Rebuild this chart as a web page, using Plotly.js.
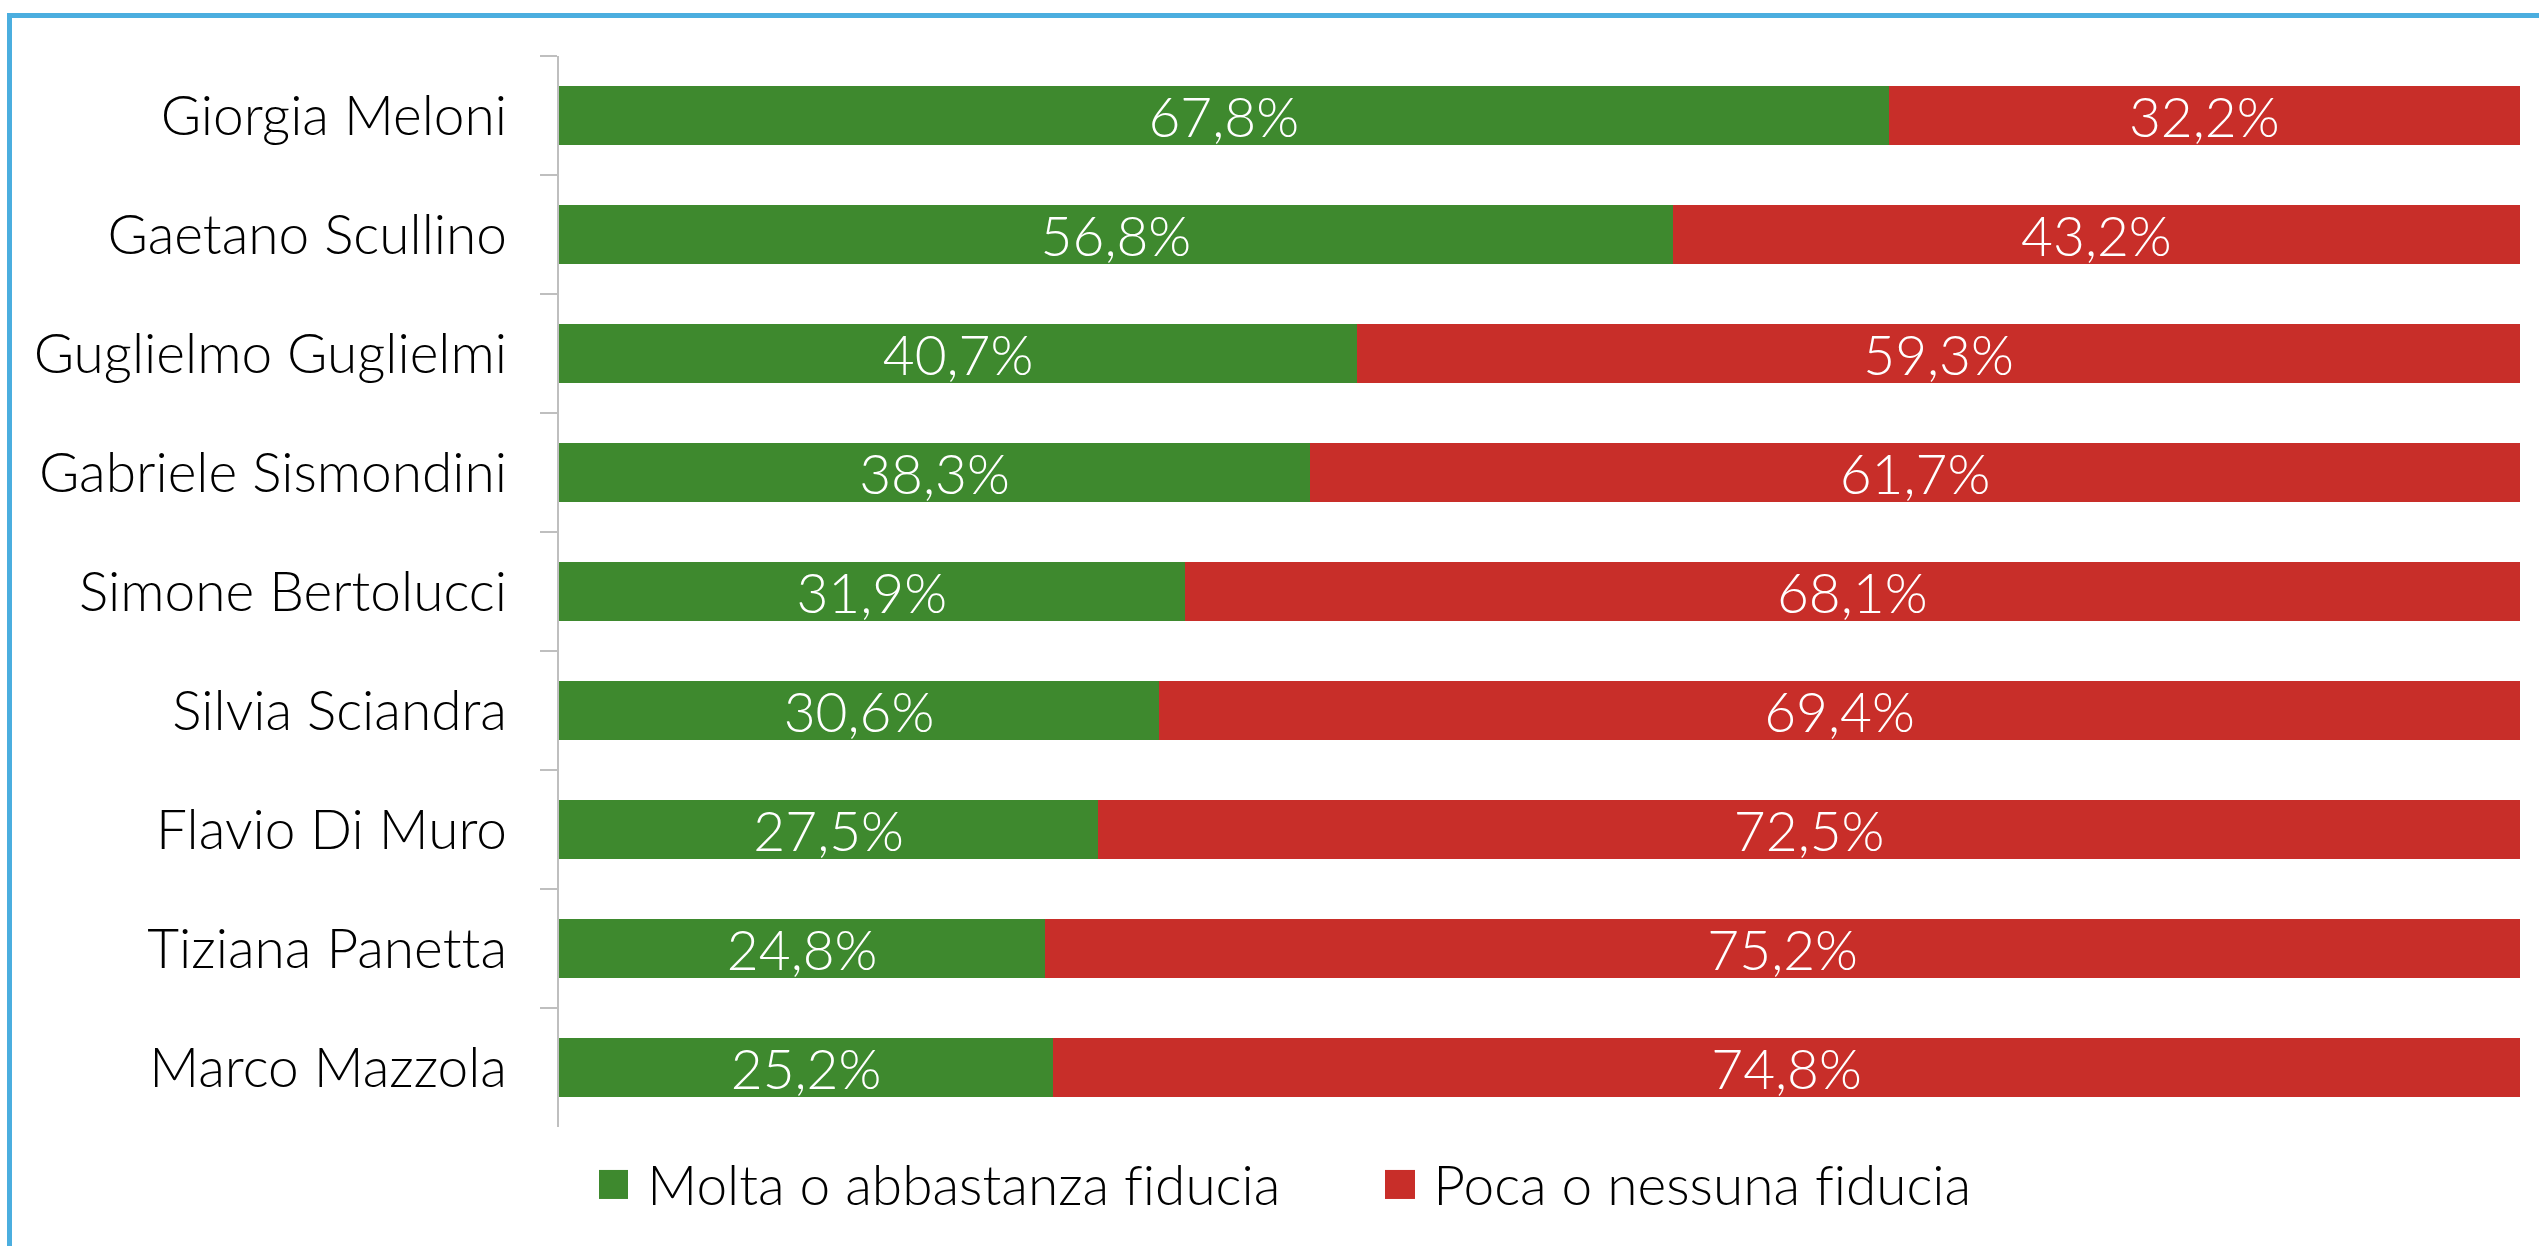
<!DOCTYPE html>
<html>
<head>
<meta charset="utf-8">
<script src="https://cdn.plot.ly/plotly-3.0.1.min.js"></script>
<style>
  html, body { margin: 0; padding: 0; background: #ffffff; overflow: hidden; }
  #wrap { position: relative; width: 2539px; height: 1246px; }
  #chart { position: absolute; left: 0; top: 0; width: 2539px; height: 1246px; }
  #chart text { font-variant-ligatures: none; font-feature-settings: "liga" 0; }
  #frame { position: absolute; left: 7px; top: 13px; width: 2600px; height: 1300px;
           border-left: 5px solid #4BAEDF; border-top: 5px solid #4BAEDF; pointer-events: none; }
</style>
</head>
<body>
<div id="wrap">
  <div id="chart"></div>
  <div id="frame"></div>
</div>
<script>
const categories = [
  "Giorgia Meloni",
  "Gaetano Scullino",
  "Guglielmo Guglielmi",
  "Gabriele Sismondini",
  "Simone Bertolucci",
  "Silvia Sciandra",
  "Flavio Di Muro",
  "Tiziana Panetta",
  "Marco Mazzola"
];
const seriesNames = ["Molta o abbastanza fiducia", "Poca o nessuna fiducia"];
const fiduciaAlta = [67.8, 56.8, 40.7, 38.3, 31.9, 30.6, 27.5, 24.8, 25.2];
const fiduciaBassa = [32.2, 43.2, 59.3, 61.7, 68.1, 69.4, 72.5, 75.2, 74.8];
const colors = ["#3E892E", "#C82E29"];

const FONT = "Lato, 'Open Sans', sans-serif";
const FS = 55;

function barTrace(vals, name, color) {
  return {
    type: "bar",
    orientation: "h",
    name: name,
    y: categories,
    x: vals,
    marker: { color: color, line: { width: 0 } },
    texttemplate: "%{x:.1f}%",
    textposition: "inside",
    insidetextanchor: "middle",
    textangle: 0,
    constraintext: "none",
    textfont: { family: FONT, size: FS, color: "#ffffff", weight: 300 },
    hoverinfo: "skip",
    showlegend: false,
    cliponaxis: false
  };
}

const data = [
  barTrace(fiduciaAlta, seriesNames[0], colors[0]),
  barTrace(fiduciaBassa, seriesNames[1], colors[1])
];

const layout = {
  width: 2539,
  height: 1246,
  margin: { l: 559, r: 19, t: 56, b: 119, pad: 0 },
  paper_bgcolor: "rgba(0,0,0,0)",
  plot_bgcolor: "#ffffff",
  barmode: "stack",
  bargap: 0.496,
  separators: ",.",
  font: { family: FONT, size: FS, color: "#000000", weight: 300 },
  showlegend: false,
  xaxis: {
    range: [0, 100],
    visible: false,
    fixedrange: true
  },
  yaxis: {
    type: "category",
    categoryorder: "array",
    categoryarray: categories,
    autorange: "reversed",
    showline: true,
    linecolor: "#BFBFBF",
    linewidth: 2,
    ticks: "outside",
    tickson: "boundaries",
    ticklen: 17,
    tickwidth: 2,
    tickcolor: "#BFBFBF",
    showgrid: false,
    zeroline: false,
    ticklabelstandoff: 39,
    tickfont: { family: FONT, size: FS, color: "#000000", weight: 300 },
    fixedrange: true
  },
  shapes: [
    { type: "rect", xref: "paper", yref: "paper",
      x0: 0.0204, x1: 0.0352, y0: -0.0672, y1: -0.0401,
      fillcolor: colors[0], line: { width: 0 } },
    { type: "rect", xref: "paper", yref: "paper",
      x0: 0.4212, x1: 0.4365, y0: -0.0672, y1: -0.0401,
      fillcolor: colors[1], line: { width: 0 } }
  ],
  annotations: [
    { xref: "paper", yref: "paper", x: 0.0444, y: -0.0536, xanchor: "left", yanchor: "middle",
      text: seriesNames[0], showarrow: false,
      font: { family: FONT, size: FS, color: "#000000", weight: 300 } },
    { xref: "paper", yref: "paper", x: 0.4452, y: -0.0536, xanchor: "left", yanchor: "middle",
      text: seriesNames[1], showarrow: false,
      font: { family: FONT, size: FS, color: "#000000", weight: 300 } }
  ]
};

Plotly.newPlot("chart", data, layout, { staticPlot: true, displayModeBar: false });
</script>
</body>
</html>
